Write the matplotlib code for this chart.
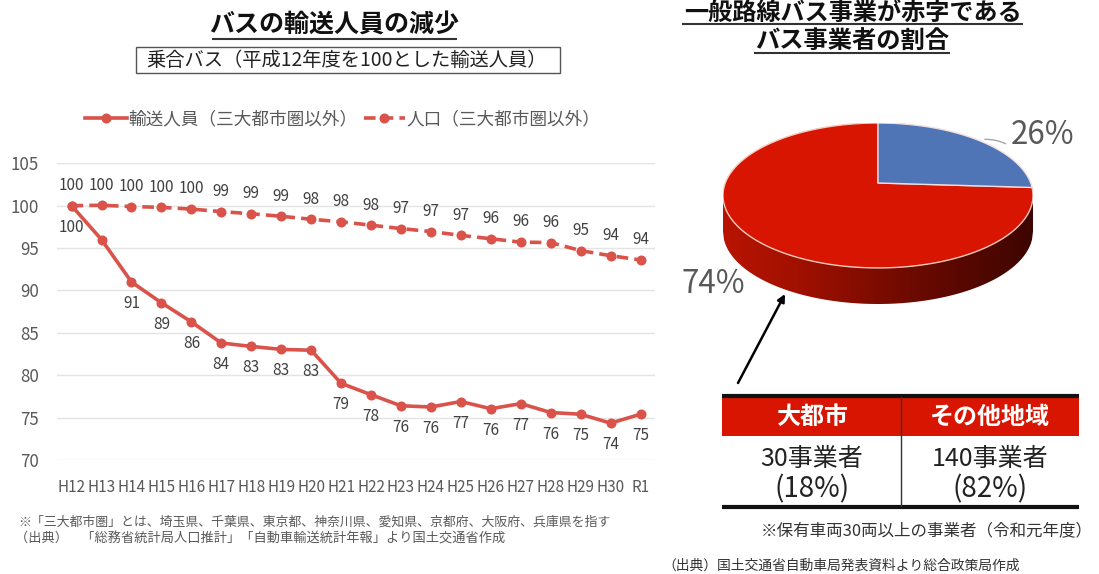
import numpy as np
import matplotlib
matplotlib.use("Agg")
import matplotlib.pyplot as plt
from matplotlib.colors import LinearSegmentedColormap
from matplotlib.patches import Polygon, Rectangle

plt.rcParams['font.family'] = ['Noto Sans CJK JP', 'DejaVu Sans']

# ---- data ----
years = ["H12","H13","H14","H15","H16","H17","H18","H19","H20","H21",
         "H22","H23","H24","H25","H26","H27","H28","H29","H30","R1"]
riders = [100,96,91,88.55,86.3,83.8,83.4,83.05,82.95,79.05,
          77.7,76.4,76.25,76.9,76.05,76.65,75.6,75.4,74.35,75.4]
population = [100,100.05,99.9,99.8,99.6,99.3,99.05,98.75,98.4,98.1,
              97.7,97.3,96.95,96.5,96.1,95.7,95.65,94.7,94.1,93.6]
rider_labels = [100,None,91,89,86,84,83,83,83,79,78,76,76,77,76,77,76,75,74,75]
pop_labels = [100,100,100,100,100,99,99,99,98,98,98,97,97,97,96,96,96,95,94,94]
rider_name = "輸送人員（三大都市圏以外）"
pop_name = "人口（三大都市圏以外）"
yticks = [70,75,80,85,90,95,100,105]

shares = [26, 74]
share_labels = ["26%", "74%"]
table_headers = ["大都市", "その他地域"]
table_counts = ["30事業者", "140事業者"]
table_pcts = ["(18%)", "(82%)"]

W, H = 1099, 574
RED = "#D9534A"
GREY = "#595959"
fig = plt.figure(figsize=(W/100, H/100), dpi=100, facecolor="white")

def px_axes(x0, y0, x1, y1):
    return fig.add_axes([x0/W, 1-y1/H, (x1-x0)/W, (y1-y0)/H])

# ---- line chart ----
ax = px_axes(56.6, 163.3, 655.5, 460)
x = np.arange(len(years))
ax.plot(x, riders, color=RED, lw=2.6, marker="o", ms=6.2, label=rider_name, clip_on=False, zorder=3)
ax.plot(x, population, color=RED, lw=2.6, ls=(0, (3.2, 1.7)), marker="o", ms=6.2,
        label=pop_name, clip_on=False, zorder=3)
ax.set_xlim(-0.5, len(years)-0.5)
ax.set_ylim(70, 105)
ax.set_yticks(yticks)
ax.set_xticks(x, years)
ax.grid(axis="y", color="#E4E4E4", lw=1)
ax.set_axisbelow(True)
for s in ax.spines.values():
    s.set_visible(False)
ax.tick_params(axis="both", length=0, colors=GREY)
ax.tick_params(axis="y", labelsize=12.2, pad=12.5)
ax.tick_params(axis="x", labelsize=11, pad=14)
for i, v in enumerate(population):
    ax.annotate(str(pop_labels[i]), (i, v), xytext=(0, 14.5), textcoords="offset points",
                ha="center", va="center", fontsize=11, color="#404040")
for i, v in enumerate(riders):
    if rider_labels[i] is not None:
        ax.annotate(str(rider_labels[i]), (i, v), xytext=(0, -15.5), textcoords="offset points",
                    ha="center", va="center", fontsize=11, color="#404040")
leg = ax.legend(loc="center", bbox_to_anchor=((343-56.6)/599, 1+(163.3-119)/296.7), ncols=2,
                frameon=False, fontsize=12.7, handlelength=2.35, handletextpad=0.1,
                columnspacing=0.35, labelcolor=GREY, borderpad=0, borderaxespad=0)

# ---- pie (perspective disc with a cylindrical side) ----
RX, RY, DEPTH = 155.0, 72.5, 36.0
pie = px_axes(723, 123, 1033, 304)
pie.set_xlim(-RX, RX)
pie.set_ylim(-RY-DEPTH, RY)
pie.axis("off")

k, A, B, C = 0.172, 152.7, 72.47, 12.5
def project(turn0, turn1, n=200):
    t = np.linspace(turn0, turn1, n)*2*np.pi
    u, v = np.sin(t), np.cos(t)
    d = 1+k*v
    return np.column_stack([A*u/d, (B*v+C)/d])

# side wall
sx = np.linspace(-RX, RX, 300)
sy = -RY*np.sqrt(np.clip(1-(sx/RX)**2, 0, 1))
side = np.vstack([np.column_stack([sx, sy]), np.column_stack([sx, sy-DEPTH])[::-1]])
side_patch = Polygon(side, closed=True, transform=pie.transData, fc="none", ec="none")
pie.add_patch(side_patch)
side_cmap = LinearSegmentedColormap.from_list(
    "side", ["#B81400", "#A01000", "#7C0C00", "#5A0800", "#3E0500"])
im = pie.imshow(np.linspace(0, 1, 256)[None, :], extent=(-RX, RX, -RY-DEPTH, 0),
                cmap=side_cmap, aspect="auto", zorder=1)
im.set_clip_path(side_patch)
pie.set_xlim(-RX, RX)
pie.set_ylim(-RY-DEPTH, RY)

f_blue = shares[0]/sum(shares)
apex = np.array([[0, C]])
pie.add_patch(Polygon(np.vstack([apex, project(f_blue, 1)]), closed=True, fc="#D81500",
                      ec="#F5C9BC", lw=1, zorder=2, joinstyle="round"))
pie.add_patch(Polygon(np.vstack([apex, project(0, f_blue)]), closed=True, fc="#4F75B6",
                      ec="#F0DEDC", lw=1, zorder=3, joinstyle="round"))

# ---- overlay in image pixels: titles, notes, table ----
ov = fig.add_axes([0, 0, 1, 1], zorder=10)
ov.set_xlim(0, W)
ov.set_ylim(H, 0)
ov.axis("off")

def txt(x_, y_, s, size, color="#222222", weight="normal", ha="center"):
    return ov.text(x_, y_, s, fontsize=size, color=color, fontweight=weight, ha=ha, va="center")

def hline(x0, x1, y_, lw=1.5, color="#333333"):
    ov.plot([x0, x1], [y_, y_], color=color, lw=lw, solid_capstyle="butt")

txt(334.5, 26, "バスの輸送人員の減少", 18, weight="bold", color="#111111")
hline(212, 457, 39)
ov.add_patch(Rectangle((136, 47), 424, 26, fc="white", ec="#555555", lw=1))
txt(346, 60, "乗合バス（平成12年度を100とした輸送人員）", 13.9, color="#222222")

txt(852.5, 12.5, "一般路線バス事業が赤字である", 17.4, weight="bold", color="#111111")
hline(682, 1023, 23.5)
txt(852, 42, "バス事業者の割合", 17.5, weight="bold", color="#111111")
hline(754, 950, 53)

txt(1043, 135, share_labels[0], 22.5, color=GREY)
txt(713, 284, share_labels[1], 22.5, color=GREY)
ov.annotate("", xy=(982, 139.5), xytext=(1008, 145),
            arrowprops=dict(arrowstyle="-", color="#A6A6A6", lw=1, connectionstyle="arc3,rad=0.15"))
ov.annotate("", xy=(785, 294), xytext=(738, 383),
            arrowprops=dict(arrowstyle="-|>", color="black", lw=1.8, mutation_scale=11,
                            shrinkA=0, shrinkB=0))

# table
ov.add_patch(Rectangle((722, 397), 357, 39, fc="#D81500", ec="none"))
ov.plot([722, 1079], [395.5, 395.5], color="#111111", lw=3, solid_capstyle="butt")
ov.plot([722, 1079], [507, 507], color="#111111", lw=3, solid_capstyle="butt")
ov.plot([901, 901], [397, 506], color="#333333", lw=1)
for cx, h_, c_, p_ in zip([812, 990], table_headers, table_counts, table_pcts):
    txt(cx, 417, h_, 17.3, color="white", weight="bold")
    txt(cx, 459, c_, 18, color="#222222")
    txt(cx, 489, p_, 20, color="#222222")

txt(761, 531, "※保有車両30両以上の事業者（令和元年度）", 11.9, ha="left", color="#333333")
txt(662, 566, "（出典）国土交通省自動車局発表資料より総合政策局作成", 9.95, ha="left", color="#333333")
txt(18, 522, "※「三大都市圏」とは、埼玉県、千葉県、東京都、神奈川県、愛知県、京都府、大阪府、兵庫県を指す",
    9.3, ha="left", color=GREY)
txt(15, 539, "（出典）　「総務省統計局人口推計」「自動車輸送統計年報」より国土交通省作成",
    9.5, ha="left", color=GREY)

fig.savefig("out.png", dpi=100)
